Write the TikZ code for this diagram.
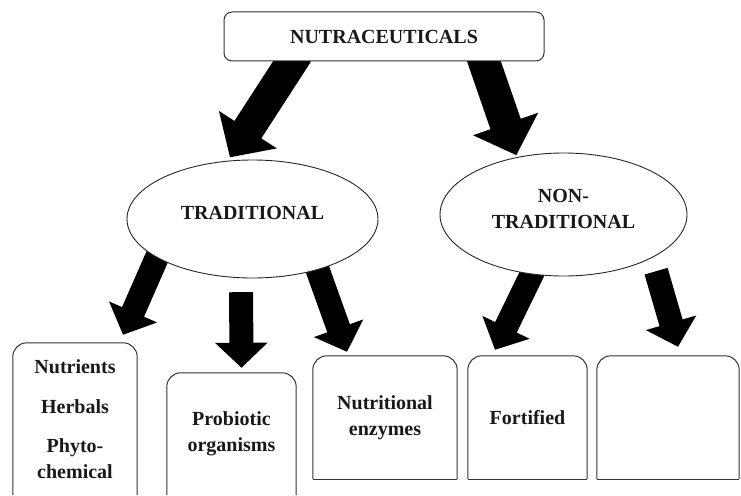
\documentclass[tikz,border=0pt]{standalone}
\usepackage{fontspec}
\setmainfont{Liberation Serif}
\usetikzlibrary{shapes.geometric,arrows.meta,backgrounds}
\begin{document}
\begin{tikzpicture}[
			x=1pt, y=-1pt,
			cell/.style={
				rectangle,
				align=center,
				inner sep=0pt,
				text=black!90,
				font=\fontsize{20}{26}\selectfont\bfseries,
			},
			oval/.style={% ellipses for the two groups
				ellipse,
				draw=black!85,
				line width=0.9pt,
				fill=white,
				inner sep=0pt,
				align=center,
				text depth=12pt,
				text=black!90,
				font=\fontsize{20}{26}\selectfont\bfseries,
			},
			boxline/.style={
				draw=black!80,
				line width=1pt,
				rounded corners=14pt,
			},
			ArrowBig/.style={% block arrows from the top box
				line width=32pt,
				-{Triangle[length=33pt,width=67pt]},
				shorten <=-10pt,
			},
			ArrowSmall/.style={% block arrows to the products
				line width=24pt,
				-{Triangle[length=25pt,width=51pt]},
				shorten <=-10pt,
			},
			]
				\useasboundingbox (0,0) rectangle (741,495);
				% top
				\node[cell, draw=black!80, line width=1pt, rounded corners=8pt, fill=white, minimum width=320pt, minimum height=49pt] (nutra) at (384,36.5) {NUTRACEUTICALS};
				
				% groups
				\node[oval, minimum width=251pt, minimum height=118pt] (trad) at (252.5,219) {TRADITIONAL};
				\node[oval, minimum width=247pt, minimum height=123pt] (nontrad) at (563.5,214.5) {NON-\\TRADITIONAL};
				
				% products
				\node[cell, minimum width=124pt, minimum height=152pt] (nutr) at (75,419) {Nutrients\\[14pt]Herbals\\[13pt]Phyto-\\chemical};
				\node[cell, minimum width=129pt, minimum height=122pt] (probio) at (231.5,434) {Probiotic\\organisms};
				\node[cell, minimum width=144pt, minimum height=123pt] (enz) at (385,417.5) {Nutritional\\enzymes};
				\node[cell, minimum width=119pt, minimum height=123pt] (fort) at (527.5,417.5) {Fortified};
				\node[cell, minimum width=142pt, minimum height=123pt] (blank) at (668,417.5) {};
				
				% box outlines, rounded at the top only
				\draw[boxline] (nutr.south west) |- (nutr.north) -| (nutr.south east);
				\draw[boxline] (probio.south west) |- (probio.north) -| (probio.south east);
				\draw[boxline] (enz.south west) |- (enz.north) -| (enz.south east);
				\draw[boxline] (enz.south west) -- (enz.south east);
				\draw[boxline] (fort.south west) |- (fort.north) -| (fort.south east);
				\draw[boxline] (fort.south west) -- (fort.south east);
				\draw[boxline] (blank.south west) |- (blank.north) -| (blank.south east);
				\draw[boxline] (blank.south west) -- (blank.south east);
				
				% arrows
				\begin{scope}[on background layer]
				\draw[ArrowBig, shorten >=4pt] ([xshift=-92pt]nutra.south) -- (trad.113);
				\draw[ArrowBig, shorten >=2pt] ([xshift=100pt]nutra.south) -- (nontrad.129);
				
				\draw[ArrowSmall] (trad.202) -- ([xshift=48pt,yshift=8pt]nutr.north);
				\draw[ArrowSmall, shorten <=14pt] (trad.259) -- ([xshift=10pt,yshift=5pt]probio.north);
				\draw[ArrowSmall] (trad.322) -- ([xshift=-38pt,yshift=4pt]enz.north);
				
				\draw[ArrowSmall] (nontrad.242) -- ([xshift=-32.5pt,yshift=6pt]fort.north);
				\draw[ArrowSmall, shorten <=14pt] (nontrad.334) -- ([xshift=10pt,yshift=9pt]blank.north);
				\end{scope}
			\end{tikzpicture}
\end{document}
